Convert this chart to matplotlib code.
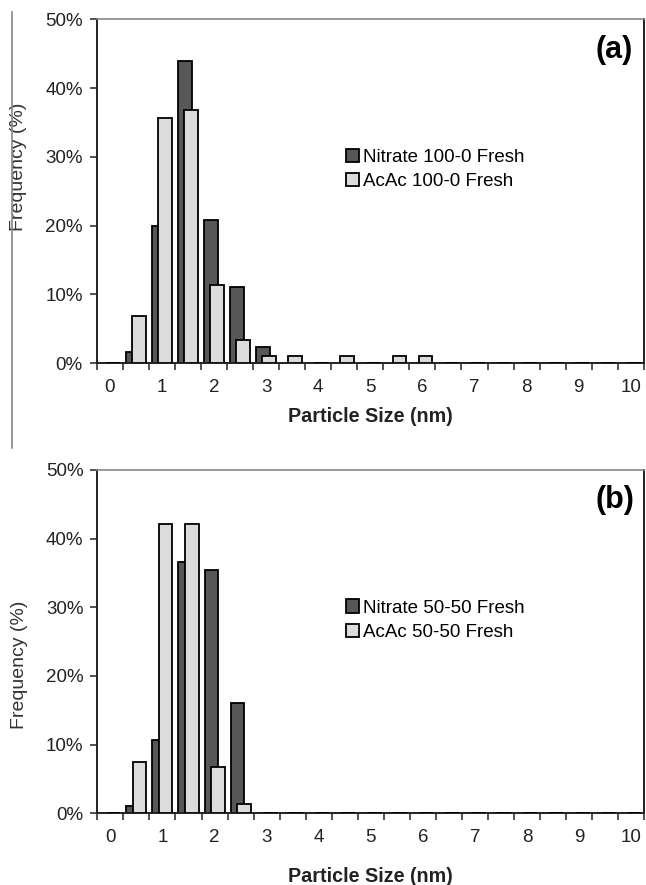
import matplotlib
matplotlib.use('Agg')
import matplotlib.pyplot as plt
from matplotlib.ticker import PercentFormatter, MultipleLocator
from matplotlib.lines import Line2D
import numpy as np

plt.rcParams['font.family'] = ['Liberation Sans', 'DejaVu Sans']

# particle size bins (nm)
sizes = np.arange(0, 10.5, 0.5)

# panel (a) frequencies (fraction)
nitrate_a = [0, 0.017, 0.200, 0.439, 0.208, 0.111, 0.023, 0, 0, 0,
             0, 0, 0, 0, 0, 0, 0, 0, 0, 0, 0]
acac_a = [0, 0.069, 0.357, 0.368, 0.114, 0.034, 0.011, 0.011, 0, 0.011,
          0, 0.011, 0.011, 0, 0, 0, 0, 0, 0, 0, 0]
labels_a = ["Nitrate 100-0 Fresh", "AcAc 100-0 Fresh"]

# panel (b) frequencies (fraction)
nitrate_b = [0, 0.010, 0.107, 0.366, 0.355, 0.160, 0, 0, 0, 0,
             0, 0, 0, 0, 0, 0, 0, 0, 0, 0, 0]
acac_b = [0, 0.074, 0.421, 0.421, 0.067, 0.014, 0, 0, 0, 0,
          0, 0, 0, 0, 0, 0, 0, 0, 0, 0, 0]
labels_b = ["Nitrate 50-50 Fresh", "AcAc 50-50 Fresh"]

dark = '#575757'
light = '#dcdcdc'
bar_w = 0.265
shift = 0.06


def draw_panel(ax, nit, acac, labels, tag, ylab_y, xlab_y):
    ax.bar(sizes - shift, nit, width=bar_w, color=dark, edgecolor='black',
           linewidth=1.3, label=labels[0], zorder=2)
    ax.bar(sizes + shift, acac, width=bar_w, color=light, edgecolor='black',
           linewidth=1.3, label=labels[1], zorder=3)
    ax.set_xlim(-0.25, 10.25)
    ax.set_ylim(0, 0.5)
    ax.yaxis.set_major_locator(MultipleLocator(0.1))
    ax.yaxis.set_major_formatter(PercentFormatter(1, decimals=0))
    ax.set_xticks(np.arange(0, 11, 1))
    ax.set_xticks(np.arange(-0.25, 10.3, 0.5), minor=True)
    ax.tick_params(axis='x', which='major', length=0, pad=11,
                   labelsize=13.5, labelcolor='#222222')
    ax.tick_params(axis='x', which='minor', length=5, width=1.2,
                   direction='out', color='#333333')
    ax.tick_params(axis='y', length=5, width=1.2, direction='out',
                   pad=5, labelsize=13.5, labelcolor='#222222',
                   color='#333333')
    for s in ['left', 'bottom', 'right']:
        ax.spines[s].set_color('#222222')
        ax.spines[s].set_linewidth(1.4)
    ax.spines['top'].set_color('#888888')
    ax.spines['top'].set_linewidth(1.2)
    ax.set_ylabel("Frequency (%)", fontsize=14, color='#333333')
    ax.yaxis.set_label_coords(-0.127, ylab_y)
    ax.set_xlabel("Particle Size (nm)", fontsize=14.2, fontweight='bold',
                  color='#222222')
    ax.xaxis.set_label_coords(0.5, xlab_y)
    ax.text(0.946, 0.912, tag, transform=ax.transAxes, fontsize=22,
            fontweight='bold', ha='center', va='center')
    ax.legend(loc='upper left', bbox_to_anchor=(0.455, 0.623), frameon=False,
              fontsize=13.5, handlelength=0.7, handleheight=0.7,
              handletextpad=0.2, labelspacing=0.38, borderpad=0,
              borderaxespad=0)


fig = plt.figure(figsize=(6.46, 8.85), dpi=100)
ax_a = fig.add_axes([0.1497, 0.5895, 0.847, 0.3887])
ax_b = fig.add_axes([0.1506, 0.081, 0.847, 0.388])

draw_panel(ax_a, nitrate_a, acac_a, labels_a, "(a)", 0.571, -0.127)
draw_panel(ax_b, nitrate_b, acac_b, labels_b, "(b)", 0.432, -0.156)

# thin gray border line on the left of the top panel
fig.add_artist(Line2D([12 / 646, 12 / 646], [1 - 12 / 885, 1 - 448 / 885],
                      color='#888888', linewidth=1.2))

fig.savefig('out.png', dpi=100)
